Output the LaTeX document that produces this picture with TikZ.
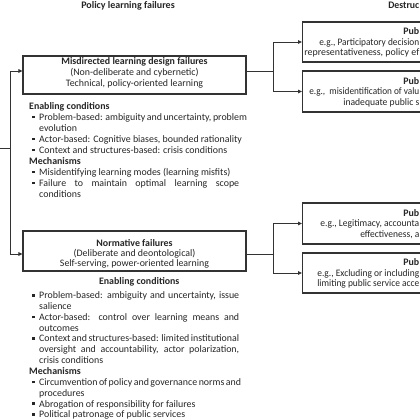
\documentclass[tikz,border=0pt]{standalone}
\usepackage{fontspec}
\usepackage{graphicx}
\setmainfont{Carlito}
\usetikzlibrary{arrows.meta,calc}
\definecolor{ink}{HTML}{262626}
\definecolor{edge}{HTML}{333333}
\newcommand{\sqbul}{\textcolor{ink}{\rule[2pt]{2.6pt}{2.6pt}}}
\newcommand{\bitem}{\par\leftskip=10pt\noindent\llap{\makebox[7pt][l]{\sqbul}}}
\newcommand{\bhead}[1]{\par\leftskip=0pt\noindent\rule{0pt}{8pt}\textbf{#1}}
\newcommand{\jl}[1]{\makebox[200pt][s]{#1}\newline}
\newcommand{\fitw}[2]{\resizebox{#1}{\height}{#2}}
\begin{document}
\begin{tikzpicture}[x=1pt,y=-1pt,
  every node/.style={text=ink, font=\fontsize{9.9}{11}\selectfont},
  box/.style={draw=edge, line width=1.2pt, inner sep=0pt},
  conn/.style={draw=edge, line width=0.9pt, -{Triangle[length=4pt,width=3.6pt]}},
  wire/.style={draw=edge, line width=0.9pt},
  txt/.style={inner sep=0pt, align=center, anchor=north},
  blk/.style={inner sep=0pt, anchor=north west, text width=225pt, align=justify},
  lbl/.style={inner sep=0pt, anchor=base west},
  rlbl/.style={inner sep=0pt, anchor=base east}]
\fill[white] (0,0) rectangle (420,420);
\useasboundingbox (0,0) rectangle (420,420);

% titles
\node[inner sep=0pt, anchor=base, font=\fontsize{10}{11}\selectfont\bfseries] (t1) at (128,8.5) {Policy learning failures};
\node[rlbl, font=\fontsize{10}{11}\selectfont\bfseries] (t2) at (419.5,8.5) {\fitw{31pt}{Destruc}};

% left boxes
\node[box, minimum width=223pt, minimum height=38pt] (mis) at (134.5,75) {};
\node[box, minimum width=223pt, minimum height=40pt] (nor) at (134.5,251) {};
\node[txt] (mist) at (134.5,56.5) {\rule{0pt}{8pt}\textbf{Misdirected learning design failures}\\(Non-deliberate and cybernetic)\\Technical, policy-oriented learning};
\node[txt, font=\fontsize{9.9}{10.2}\selectfont] (nort) at (134.5,238) {\rule{0pt}{8pt}\textbf{Normative failures}\\(Deliberate and deontological)\\Self-serving, power-oriented learning};

% text blocks
\node[blk] (misb) at (29,98) {%
\bhead{Enabling conditions}
\bitem \jl{Problem-based: ambiguity and uncertainty, problem}evolution
\bitem Actor-based: Cognitive biases, bounded rationality
\bitem Context and structures-based: crisis conditions
\bhead{Mechanisms}
\bitem Misidentifying learning modes (learning misfits)
\bitem \jl{Failure to maintain optimal learning scope}conditions\par};

\node[blk, font=\fontsize{9.9}{10.85}\selectfont] (norb) at (29,276) {%
\noindent\rule{0pt}{8pt}\makebox[210pt][l]{\hspace*{10pt}\makebox[200pt]{\textbf{Enabling conditions}}}\par\vspace{3.5pt}
\bitem \jl{Problem-based: ambiguity and uncertainty, issue}salience
\bitem \jl{Actor-based: control over learning means and}outcomes
\bitem \jl{Context and structures-based: limited institutional}\jl{oversight and accountability, actor polarization,}crisis conditions
\bhead{Mechanisms}
\bitem \jl{Circumvention of policy and governance norms and}procedures
\bitem Abrogation of responsibility for failures
\bitem Political patronage of public services\par};

% right boxes
\node[box, anchor=west, minimum width=140pt, minimum height=40pt] (r1) at (302,42) {};
\node[box, anchor=west, minimum width=140pt, minimum height=41pt] (r2) at (302,91.5) {};
\node[box, anchor=west, minimum width=140pt, minimum height=41pt] (r3) at (302,223.5) {};
\node[box, anchor=west, minimum width=140pt, minimum height=40pt] (r4) at (302,273) {};

\node[rlbl] (r1a) at (419.5,35) {\textbf{Pub}};
\node[rlbl] (r1b) at (419.5,45.5) {\fitw{100pt}{e.g., Participatory decision}};
\node[rlbl] (r1c) at (419.5,56) {\fitw{115pt}{representativeness, policy ef}};
\node[rlbl] (r2a) at (419.5,84) {\textbf{Pub}};
\node[rlbl] (r2b) at (419.5,94.5) {\fitw{110pt}{e.g.,\ \ misidentification of valu}};
\node[rlbl] (r2c) at (419.5,105) {\fitw{76pt}{inadequate public s}};
\node[rlbl] (r3a) at (419.5,216) {\textbf{Pub}};
\node[rlbl] (r3b) at (419.5,226.5) {\fitw{99pt}{e.g., Legitimacy, accounta}};
\node[rlbl] (r3c) at (419.5,237) {\fitw{59pt}{effectiveness, a}};
\node[rlbl] (r4a) at (419.5,265.5) {\textbf{Pub}};
\node[rlbl] (r4b) at (419.5,276) {\fitw{102pt}{e.g., Excluding or including}};
\node[rlbl] (r4c) at (419.5,286.5) {\fitw{102pt}{limiting public service acce}};

% connectors
\coordinate (inL) at (-5,148);
\coordinate (jL) at (10,148);
\draw[wire] (inL) -- (jL);
\draw[conn] (jL) |- ([yshift=4pt]mis.west);
\draw[conn] (jL) |- ([yshift=-3pt]nor.west);
\coordinate (jR1) at (273,71);
\draw[wire] ([yshift=4pt]mis.east) -- (jR1);
\draw[conn] (jR1) |- (r1.west);
\draw[conn] (jR1) |- (r2.west);
\coordinate (jR2) at (273,254);
\draw[wire] ([yshift=-3pt]nor.east) -- (jR2);
\draw[conn] (jR2) |- (r3.west);
\draw[conn] (jR2) |- (r4.west);
\end{tikzpicture}
\end{document}
